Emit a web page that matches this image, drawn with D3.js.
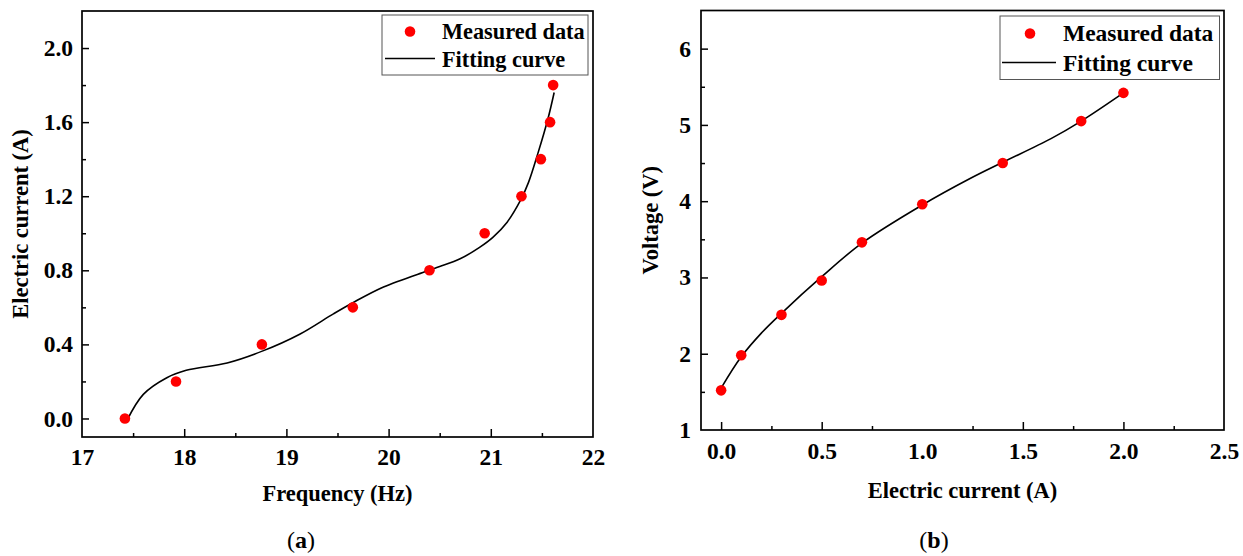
<!DOCTYPE html>
<html>
<head>
<meta charset="utf-8">
<script src="https://cdn.jsdelivr.net/npm/d3@7/dist/d3.min.js"></script>
<style>
body{margin:0;background:#fff;}
</style>
</head>
<body>
<svg id="fig" width="1243" height="556"></svg>
<script>
// (a) measured frequency vs current
const freqA = [17.42, 17.92, 18.76, 19.65, 20.40, 20.94, 21.30, 21.49, 21.58, 21.61];
const currentA = [0.0, 0.2, 0.4, 0.6, 0.8, 1.0, 1.2, 1.4, 1.6, 1.8];
// (a) fitting curve
const fitFreqA = [17.44, 17.60, 17.83, 18.02, 18.42, 18.77, 19.13, 19.46, 19.65, 19.95, 20.37, 20.50, 20.70, 20.89, 21.02, 21.16, 21.29, 21.37, 21.46, 21.56, 21.62];
const fitCurrentA = [-0.01, 0.13, 0.22, 0.26, 0.30, 0.365, 0.455, 0.565, 0.625, 0.71, 0.795, 0.82, 0.862, 0.924, 0.978, 1.06, 1.177, 1.276, 1.43, 1.62, 1.76];
const xTicksA = [17, 18, 19, 20, 21, 22];
const xMinorA = [17.5, 18.5, 19.5, 20.5, 21.5];
const yTicksA = [0.0, 0.4, 0.8, 1.2, 1.6, 2.0];
const yMinorA = [0.2, 0.6, 1.0, 1.4, 1.8];

// (b) measured current vs voltage
const currentB = [0.0, 0.1, 0.3, 0.5, 0.7, 1.0, 1.4, 1.79, 2.0];
const voltageB = [1.52, 1.98, 2.51, 2.96, 3.46, 3.96, 4.50, 5.05, 5.42];
const fitCurrentB = [0.0, 0.1, 0.2, 0.3, 0.5, 0.7, 1.0, 1.24, 1.4, 1.64, 1.79, 2.0];
const fitVoltageB = [1.55, 1.96, 2.27, 2.53, 3.01, 3.45, 3.95, 4.30, 4.51, 4.82, 5.05, 5.42];
const xTicksB = [0.0, 0.5, 1.0, 1.5, 2.0, 2.5];
const xMinorB = [0.25, 0.75, 1.25, 1.75, 2.25];
const yTicksB = [1, 2, 3, 4, 5, 6];
const yMinorB = [1.5, 2.5, 3.5, 4.5, 5.5];

const legendLabels = ["Measured data", "Fitting curve"];
const serif = "'Liberation Serif', 'Times New Roman', Times, serif";

const svg = d3.select("#fig");

function drawPanel(o){
	let x = d3.scaleLinear().domain(o.xDomain).range([o.left, o.right]);
	let y = d3.scaleLinear().domain(o.yDomain).range([o.bottom, o.top]);
	let g = svg.append("g");

	//major + minor ticks, pointing inward
	g.append("g").attr("transform", "translate(0," + o.bottom + ")")
		.call(d3.axisBottom(x).tickValues(o.xTicks).tickFormat(o.xFmt)
			.tickSizeInner(-8).tickSizeOuter(0).tickPadding(o.xPad));
	g.append("g").attr("transform", "translate(0," + o.bottom + ")")
		.call(d3.axisBottom(x).tickValues(o.xMinor).tickFormat("")
			.tickSizeInner(-4).tickSizeOuter(0));
	g.append("g").attr("transform", "translate(" + o.left + ",0)")
		.call(d3.axisLeft(y).tickValues(o.yTicks).tickFormat(o.yFmt)
			.tickSizeInner(-7).tickSizeOuter(0).tickPadding(o.yPad));
	g.append("g").attr("transform", "translate(" + o.left + ",0)")
		.call(d3.axisLeft(y).tickValues(o.yMinor).tickFormat("")
			.tickSizeInner(-4).tickSizeOuter(0));
	g.selectAll(".domain").remove();
	g.selectAll(".tick line").attr("stroke", "#000").attr("stroke-width", 1.5);
	g.selectAll(".tick text").attr("font-size", 23.5).attr("fill", "#000");
	// hide tick marks sitting on the frame edges
	g.selectAll(".tick").filter(function(d){
		return d === o.xDomain[0] || d === o.xDomain[1] || d === o.yDomain[0] || d === o.yDomain[1];
	}).select("line").remove();

	// fitting curve
	let pts = o.fitX.map(function(d, i){ return [d, o.fitY[i]]; });
	g.append("path")
		.datum(pts)
		.attr("fill", "none")
		.attr("stroke", "#000")
		.attr("stroke-width", 1.6)
		.attr("d", d3.line().x(function(d){return x(d[0]);}).y(function(d){return y(d[1]);})
			.curve(d3.curveCatmullRom.alpha(0.5)));

	// measured points
	g.append("g").selectAll("circle")
		.data(o.ptX)
		.enter()
		.append("circle")
		.attr("cx", function(d){return x(d);})
		.attr("cy", function(d, i){return y(o.ptY[i]);})
		.attr("r", 5.3)
		.attr("fill", "#ff0000");

	// frame
	g.append("rect")
		.attr("x", o.left).attr("y", o.top)
		.attr("width", o.right - o.left).attr("height", o.bottom - o.top)
		.attr("fill", "none").attr("stroke", "#000").attr("stroke-width", 1.7);

	// legend
	let L = o.legend;
	let lg = g.append("g");
	lg.append("rect")
		.attr("x", L.x0).attr("y", L.y0)
		.attr("width", L.x1 - L.x0).attr("height", L.y1 - L.y0)
		.attr("fill", "#fff").attr("stroke", "#555").attr("stroke-width", 1);
	lg.append("circle").attr("cx", L.mx).attr("cy", L.row1 - 7).attr("r", 5.3).attr("fill", "#ff0000");
	lg.append("line")
		.attr("x1", L.lx0).attr("x2", L.lx1)
		.attr("y1", L.row2 - 8).attr("y2", L.row2 - 8)
		.attr("stroke", "#000").attr("stroke-width", 1.6);
	lg.selectAll("text.lab")
		.data(legendLabels)
		.enter()
		.append("text")
		.attr("class", "lab")
		.attr("x", L.tx)
		.attr("y", function(d, i){return i == 0 ? L.row1 : L.row2;})
		.attr("font-size", L.fs)
		.text(function(d){return d;});

	// axis titles
	g.append("text")
		.attr("x", (o.left + o.right)/2)
		.attr("y", o.xTitleY)
		.attr("text-anchor", "middle")
		.attr("font-size", 22.5)
		.text(o.xTitle);
	g.append("text")
		.attr("transform", "translate(" + o.yTitleX + "," + (o.top + o.bottom)/2 + ") rotate(-90)")
		.attr("text-anchor", "middle")
		.attr("font-size", 22.5)
		.text(o.yTitle);

	// caption (a)/(b)
	let cap = g.append("text")
		.attr("class", "cap")
		.attr("x", o.capX)
		.attr("y", 548)
		.attr("text-anchor", "middle")
		.attr("font-size", 24);
	cap.append("tspan").text("(");
	cap.append("tspan").attr("font-weight", "bold").text(o.cap);
	cap.append("tspan").text(")");

	// every text in Times-like bold serif
	g.selectAll("text")
		.attr("font-family", serif)
		.style("font-family", serif)
		.style("font-weight", "bold")
		.attr("fill", "#000");
	g.selectAll("text.cap").style("font-weight", "normal");
	g.selectAll("text.cap tspan").filter(function(d, i){ return i == 1; }).style("font-weight", "bold");
}

drawPanel({
	left: 82, right: 593, top: 11, bottom: 437,
	xDomain: [17, 22], yDomain: [-0.1, 2.2],
	xTicks: xTicksA, xMinor: xMinorA, yTicks: yTicksA, yMinor: yMinorA,
	xFmt: d3.format("d"), yFmt: d3.format(".1f"),
	xPad: 11, yPad: 9,
	ptX: freqA, ptY: currentA, fitX: fitFreqA, fitY: fitCurrentA,
	legend: {x0: 382, y0: 15, x1: 588, y1: 75, mx: 410, lx0: 385, lx1: 435, tx: 442, row1: 38.5, row2: 66.5, fs: 22.3},
	xTitle: "Frequency (Hz)", xTitleY: 501,
	yTitle: "Electric current (A)", yTitleX: 28,
	cap: "a", capX: 301
});

drawPanel({
	left: 701, right: 1224, top: 10.5, bottom: 430,
	xDomain: [-0.1, 2.5], yDomain: [1, 6.5],
	xTicks: xTicksB, xMinor: xMinorB, yTicks: yTicksB, yMinor: yMinorB,
	xFmt: d3.format(".1f"), yFmt: d3.format("d"),
	xPad: 12.5, yPad: 10,
	ptX: currentB, ptY: voltageB, fitX: fitCurrentB, fitY: fitVoltageB,
	legend: {x0: 1000, y0: 16, x1: 1219.5, y1: 79.5, mx: 1030, lx0: 1002, lx1: 1056, tx: 1063, row1: 40.5, row2: 70.5, fs: 23.5},
	xTitle: "Electric current (A)", xTitleY: 498,
	yTitle: "Voltage (V)", yTitleX: 658,
	cap: "b", capX: 934
});
</script>
</body>
</html>
